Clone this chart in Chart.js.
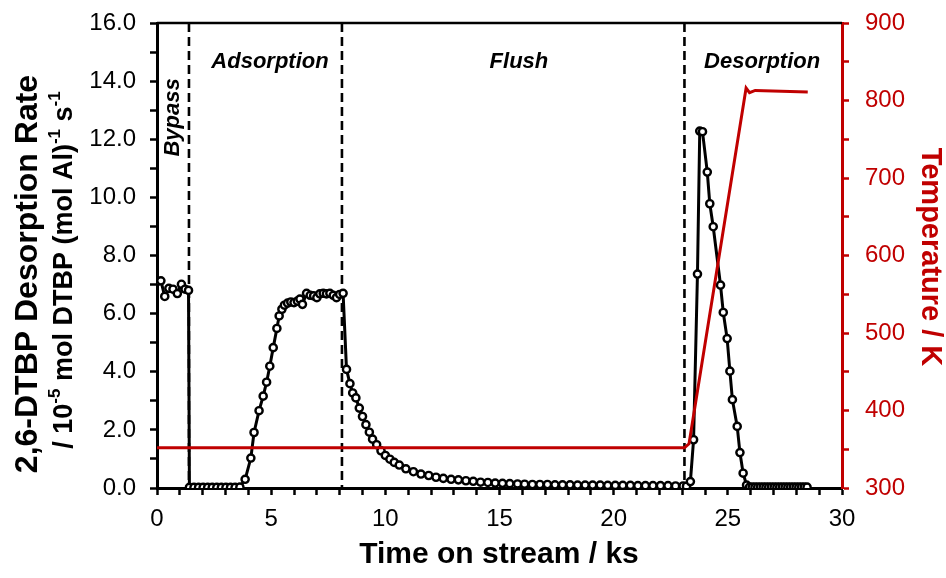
<!DOCTYPE html>
<html>
<head>
<meta charset="utf-8">
<script src="https://cdn.jsdelivr.net/npm/chart.js@4.4.1/dist/chart.umd.min.js"></script>
<style>
  html, body { margin: 0; padding: 0; background: #fff; }
</style>
</head>
<body>
<canvas id="chart" width="946" height="578"></canvas>
<script>
// Time on stream (ks) for the DTBP rate points
const timeKs = [
  0.00, 0.17, 0.34, 0.52, 0.70, 0.89, 1.07, 1.23, 1.38,
  1.42, 1.62, 1.82, 2.02, 2.22, 2.42, 2.62, 2.82, 3.02, 3.22, 3.42, 3.63,
  3.86, 4.11, 4.25, 4.47, 4.65, 4.80, 4.94, 5.09, 5.25, 5.35, 5.47, 5.58, 5.72, 5.86,
  6.00, 6.15, 6.26, 6.37, 6.55, 6.71, 6.86, 7.00, 7.13, 7.28, 7.42, 7.57, 7.72, 7.86, 8.00, 8.15,
  8.30, 8.45, 8.57, 8.71, 8.86, 9.00, 9.15, 9.30, 9.44, 9.62, 9.81, 10.00, 10.20, 10.39, 10.61,
  10.90, 11.23, 11.56, 11.90, 12.22, 12.54, 12.88, 13.20, 13.53, 13.85, 14.17, 14.49, 14.81,
  15.13, 15.45, 15.79, 16.10, 16.44, 16.77, 17.10, 17.43, 17.76, 18.09, 18.42, 18.75, 19.08,
  19.41, 19.74, 20.07, 20.40, 20.73, 21.06, 21.39, 21.72, 22.05, 22.38, 22.71, 23.04,
  23.19, 23.36, 23.50, 23.67, 23.77, 23.89, 24.10, 24.21, 24.36, 24.68, 24.80, 24.97, 25.09,
  25.20, 25.41, 25.53, 25.67, 25.82,
  25.95, 26.07, 26.19, 26.31, 26.43, 26.55, 26.67, 26.79, 26.91, 27.03, 27.15, 27.27,
  27.39, 27.51, 27.63, 27.75, 27.87, 27.99, 28.11, 28.23, 28.35, 28.47
];

// 2,6-DTBP desorption rate (10^-5 mol DTBP (mol Al)^-1 s^-1)
const rate = [
  7.10, 7.13, 6.59, 6.87, 6.84, 6.69, 7.01, 6.84, 6.80,
  0.02, 0.02, 0.02, 0.02, 0.02, 0.02, 0.02, 0.02, 0.02, 0.02, 0.02, 0.03,
  0.30, 1.03, 1.91, 2.66, 3.16, 3.64, 4.19, 4.83, 5.49, 5.92, 6.15, 6.29, 6.36, 6.40,
  6.38, 6.43, 6.50, 6.32, 6.70, 6.63, 6.61, 6.55, 6.68, 6.70, 6.68, 6.70, 6.63, 6.55, 6.66, 6.70,
  4.08, 3.59, 3.27, 3.10, 2.75, 2.46, 2.18, 1.92, 1.68, 1.49, 1.28, 1.12, 0.99, 0.88, 0.79,
  0.66, 0.56, 0.48, 0.43, 0.37, 0.33, 0.30, 0.28, 0.25, 0.23, 0.20, 0.19, 0.17,
  0.16, 0.15, 0.14, 0.13, 0.12, 0.12, 0.12, 0.11, 0.11, 0.11, 0.10, 0.10, 0.10,
  0.10, 0.09, 0.09, 0.09, 0.09, 0.08, 0.08, 0.08, 0.08, 0.08, 0.07, 0.07,
  0.06, 0.22, 1.66, 7.36, 12.28, 12.26, 10.87, 9.78, 8.99, 6.98, 6.04, 5.14, 4.02,
  3.04, 2.12, 1.22, 0.51, 0.10,
  0.03, 0.03, 0.03, 0.03, 0.03, 0.03, 0.03, 0.03, 0.03, 0.03, 0.03, 0.03,
  0.03, 0.03, 0.03, 0.03, 0.03, 0.03, 0.03, 0.03, 0.03, 0.03
];

// Temperature trace (K)
const tempTime = [0, 23.1, 23.3, 25.8, 25.95, 26.2, 28.5];
const tempK = [352, 352, 357, 816, 810, 813, 811];

// Stage boundaries (ks) and stage names
const stageBreaks = [1.4, 8.1, 23.1];
const stageNames = ['Bypass', 'Adsorption', 'Flush', 'Desorption'];
const stageLabelX = [0.7, 4.95, 15.85, 26.5];
const stageLabelY = [12.75, 14.65, 14.65, 14.65];

const RED = '#c00000';
const FONT = '"Liberation Sans", Arial, sans-serif';

const rateData = timeKs.map((t, i) => ({ x: t, y: rate[i] }));
const tempData = tempTime.map((t, i) => ({ x: t, y: tempK[i] }));

// draw text with superscript pieces, centred on (x, y), rotated by angle
function drawRich(ctx, parts, x, y, angle, size, supSize, color) {
  ctx.save();
  ctx.translate(x, y);
  ctx.rotate(angle);
  ctx.fillStyle = color;
  ctx.textBaseline = 'middle';
  ctx.textAlign = 'left';
  let total = 0;
  parts.forEach(p => {
    ctx.font = 'bold ' + (p[1] ? supSize : size) + 'px ' + FONT;
    total += ctx.measureText(p[0]).width;
  });
  let cx = -total / 2;
  parts.forEach(p => {
    ctx.font = 'bold ' + (p[1] ? supSize : size) + 'px ' + FONT;
    ctx.fillText(p[0], cx, p[1] ? -size * 0.36 : 0);
    cx += ctx.measureText(p[0]).width;
  });
  ctx.restore();
}

const decor = {
  id: 'decor',
  beforeDatasetsDraw(chart) {
    const { ctx, chartArea: a, scales } = chart;
    ctx.save();
    // stage dividers
    ctx.strokeStyle = '#000';
    ctx.lineWidth = 2.6;
    ctx.setLineDash([9, 5]);
    stageBreaks.forEach(b => {
      const px = scales.x.getPixelForValue(b);
      ctx.beginPath();
      ctx.moveTo(px, a.top);
      ctx.lineTo(px, a.bottom);
      ctx.stroke();
    });
    ctx.setLineDash([]);
    // top frame line
    ctx.lineWidth = 2.5;
    ctx.beginPath();
    ctx.moveTo(a.left, a.top);
    ctx.lineTo(a.right, a.top);
    ctx.stroke();
    ctx.restore();
  },
  afterDraw(chart) {
    const { ctx, scales } = chart;
    ctx.save();
    // stage names
    ctx.fillStyle = '#000';
    ctx.font = 'italic bold 22px ' + FONT;
    ctx.textAlign = 'center';
    ctx.textBaseline = 'middle';
    stageNames.forEach((name, i) => {
      const px = scales.x.getPixelForValue(stageLabelX[i]);
      const py = scales.y.getPixelForValue(stageLabelY[i]);
      if (i === 0) {
        ctx.save();
        ctx.translate(px, py);
        ctx.rotate(-Math.PI / 2);
        ctx.fillText(name, 0, 0);
        ctx.restore();
      } else {
        ctx.fillText(name, px, py);
      }
    });
    ctx.restore();

    // axis titles
    drawRich(ctx, [['Time on stream / ks', false]], 499, 555, 0, 30, 18, '#000');
    drawRich(ctx, [['2,6-DTBP Desorption Rate', false]], 28, 274, -Math.PI / 2, 32, 18, '#000');
    drawRich(ctx, [['/ 10', false], ['-5', true], [' mol DTBP (mol Al)', false], ['-1', true], [' s', false], ['-1', true]],
      65, 270, -Math.PI / 2, 27, 17, '#000');
    drawRich(ctx, [['Temperature / K', false]], 930, 257, Math.PI / 2, 29, 18, RED);
  }
};

new Chart(document.getElementById('chart'), {
  type: 'line',
  data: {
    datasets: [
      {
        label: 'Temperature',
        data: tempData,
        yAxisID: 'y1',
        borderColor: RED,
        borderWidth: 3,
        pointRadius: 0,
        tension: 0,
        order: 0
      },
      {
        label: 'DTBP rate',
        data: rateData,
        yAxisID: 'y',
        borderColor: '#000',
        borderWidth: 3,
        pointRadius: 3.6,
        pointBorderWidth: 2.4,
        pointBackgroundColor: '#fff',
        pointBorderColor: '#000',
        tension: 0,
        order: 1
      }
    ]
  },
  options: {
    responsive: false,
    animation: false,
    devicePixelRatio: 1,
    layout: { padding: { top: 23, left: 0, right: 0, bottom: 0 } },
    plugins: { legend: { display: false }, tooltip: { enabled: false } },
    scales: {
      x: {
        type: 'linear',
        min: 0, max: 30,
        afterFit: s => { s.height = 90; s.paddingLeft = 0; s.paddingRight = 0; },
        border: { color: '#000', width: 3 },
        grid: { drawOnChartArea: false, tickLength: 7, tickWidth: 2.5, tickColor: '#000' },
        ticks: {
          stepSize: 1, autoSkip: false, maxRotation: 0, padding: 10,
          color: '#000', font: { family: FONT, size: 24 },
          callback: v => (v % 5 === 0 ? v : '')
        }
      },
      y: {
        position: 'left',
        min: 0, max: 16,
        afterFit: s => { s.width = 157; s.paddingTop = 0; s.paddingBottom = 0; },
        border: { color: '#000', width: 3 },
        grid: { drawOnChartArea: false, tickLength: 7, tickWidth: 2.5, tickColor: '#000' },
        ticks: {
          stepSize: 1, autoSkip: false, padding: 14,
          color: '#000', font: { family: FONT, size: 24 },
          callback: v => (v % 2 === 0 ? v.toFixed(1) : '')
        }
      },
      y1: {
        position: 'right',
        min: 300, max: 900,
        afterFit: s => { s.width = 104; s.paddingTop = 0; s.paddingBottom = 0; },
        border: { color: RED, width: 3 },
        grid: { drawOnChartArea: false, tickLength: 7, tickWidth: 2.5, tickColor: RED },
        ticks: {
          stepSize: 50, autoSkip: false, padding: 16,
          color: RED, font: { family: FONT, size: 24 },
          callback: v => (v % 100 === 0 ? v : '')
        }
      }
    }
  },
  plugins: [decor]
});
</script>
</body>
</html>
